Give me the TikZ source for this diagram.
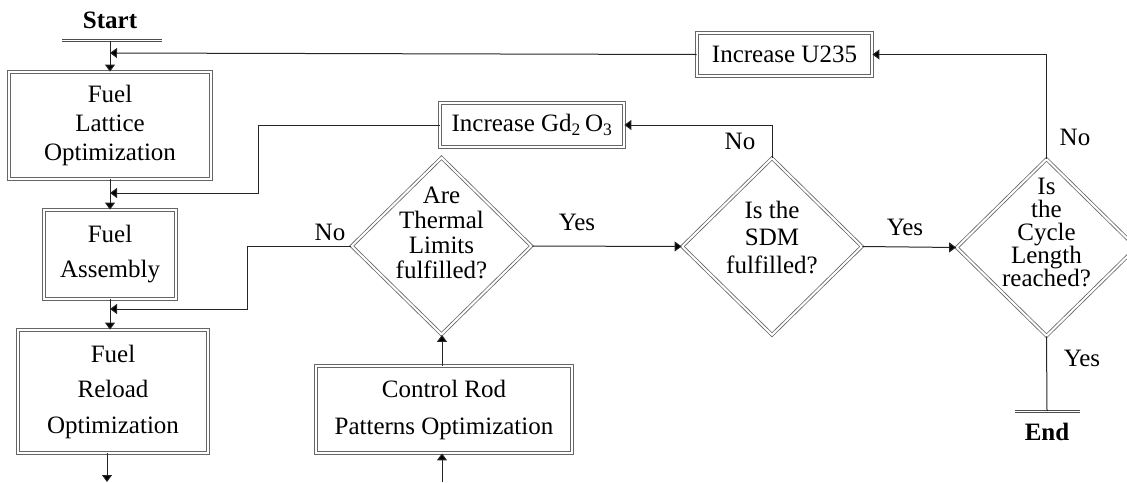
\documentclass[tikz,border=0pt]{standalone}
\usepackage{fontspec}
\setmainfont{Liberation Serif}
\usetikzlibrary{arrows.meta,shapes.geometric}
\begin{document}
\begin{tikzpicture}[x=1pt,y=-1pt,
  font=\fontsize{25}{29}\selectfont,
  dbl/.style={draw=black!60, line width=0.8pt, double=white, double distance=2pt},
  termbar/.style={draw=black!70, line width=0.9pt, double=white, double distance=1.2pt},
  procbox/.style={dbl, rectangle, inner sep=0pt, align=center},
  decision/.style={dbl, diamond, inner sep=0pt, minimum width=180pt, minimum height=177pt},
  qtext/.style={align=center, inner sep=0pt},
  flow/.style={draw=black!85, line width=1pt},
  tip/.style={-{Triangle[length=7pt,width=10pt,fill=black]}},
  lbl/.style={inner sep=0pt},
]
\useasboundingbox (0,0) rectangle (1127,482);

% process boxes
\node[procbox, minimum width=202pt, minimum height=107pt, font=\fontsize{25}{29}\selectfont]
  (lattice) at (110,125.5) {Fuel\\Lattice\\Optimization};
\node[procbox, minimum width=132pt, minimum height=89pt, font=\fontsize{25}{35}\selectfont]
  (assembly) at (110,254.5) {Fuel\\Assembly};
\node[procbox, minimum width=190pt, minimum height=123pt, font=\fontsize{25}{35.5}\selectfont]
  (reload) at (113,391.5) {Fuel\\Reload\\Optimization};
\node[procbox, minimum width=256pt, minimum height=87pt, font=\fontsize{25}{37}\selectfont]
  (control) at (444,409.5) {Control Rod\\Patterns Optimization};
\node[procbox, minimum width=184pt, minimum height=44pt]
  (gd) at (532,125) {Increase Gd\textsubscript{2}\,O\textsubscript{3}};
\node[procbox, minimum width=175pt, minimum height=43pt]
  (u235) at (784.5,54.5) {Increase U235};

% decisions
\node[decision] (thermal) at (441.5,246) {};
\node[qtext, font=\fontsize{25}{25}\selectfont] (thermalT) at (441.5,233)
  {Are\\Thermal\\Limits\\fulfilled?};
\node[decision] (sdm) at (772,246.5) {};
\node[qtext, font=\fontsize{25}{27.5}\selectfont] (sdmT) at (772,237)
  {Is the\\SDM\\fulfilled?};
\node[decision] (cycle) at (1046.5,247.5) {};
\node[qtext, font=\fontsize{25}{23}\selectfont] (cycleT) at (1046.5,232)
  {Is\\the\\Cycle\\Length\\reached?};

% terminals
\node[font=\fontsize{25}{29}\bfseries] (start) at (110,20) {Start};
\coordinate (startbar) at (110,41);
\draw[termbar] (62,40.5) -- (162,40.5);
\node[font=\fontsize{25}{29}\bfseries] (end) at (1047,432) {End};
\coordinate (endbar) at (1047,411);
\draw[termbar] (1015,411.5) -- (1080,411.5);

% junction points
\coordinate (j1) at (110,53);
\coordinate (j2) at (110,193);
\coordinate (j3) at (110,309);
\coordinate (rexit) at (107,453);
\coordinate (rout) at (107,482);
\coordinate (cin) at (442,482);

% main chain
\draw[flow,tip] (startbar) -- (lattice.north);
\draw[flow,tip] (lattice.south) -- (lattice.south |- assembly.north);
\draw[flow,tip] (assembly.south) -- (assembly.south |- reload.north);
\draw[flow,tip] (rexit) -- (rout);
\draw[flow,tip] (cin) -- (cin |- control.south);
\draw[flow,tip] (control.north -| cin) -- (thermal.south -| cin);
\draw[flow,tip] (thermal.east) -- (sdm.west);
\draw[flow,tip] (sdm.east) -- (cycle.west);
\draw[flow] (cycle.south) -- (endbar);

% feedback loops
\draw[flow,tip] (thermal.west) -| (247,309) -- (j3);
\draw[flow,tip] (gd.west) -| (258,193) -- (j2);
\draw[flow,tip] (u235.west) -- (j1);
\draw[flow,tip] (sdm.north) |- (gd.east);
\draw[flow,tip] (cycle.north) |- (u235.east);

% branch labels
\node[lbl] (l1) at (330,232) {No};
\node[lbl] (l2) at (577,222) {Yes};
\node[lbl] (l3) at (740,141) {No};
\node[lbl] (l4) at (905,227) {Yes};
\node[lbl] (l5) at (1075,137) {No};
\node[lbl] (l6) at (1082,358) {Yes};
\end{tikzpicture}
\end{document}
